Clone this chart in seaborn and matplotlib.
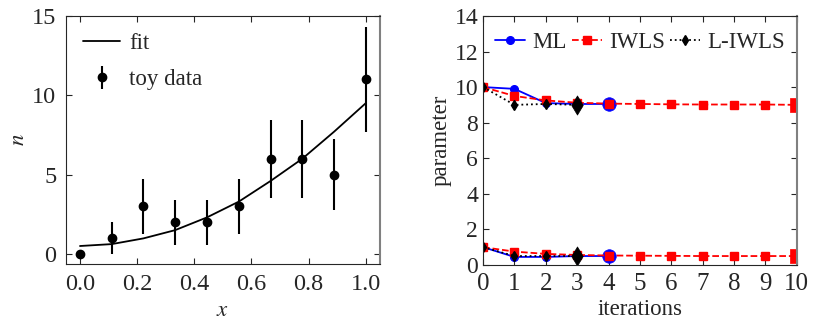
import numpy as np
import pandas as pd
import matplotlib
matplotlib.use('Agg')
import matplotlib.pyplot as plt
import seaborn as sns

# left panel: toy data and fit
x_data = [0.0, 0.111, 0.222, 0.333, 0.444, 0.556, 0.667, 0.778, 0.889, 1.0]
n_data = [0, 1, 3, 2, 2, 3, 6, 6, 5, 11]
n_err = [0, 1.0, 1.73, 1.41, 1.41, 1.73, 2.45, 2.45, 2.24, 3.32]
n_fit = [0.5, 0.62, 0.98, 1.5, 2.3, 3.3, 4.6, 6.0, 7.7, 9.5]

# right panel: parameter values per iteration
it_ml = [0, 1, 2, 3, 4]
ml_a = [10.0, 9.9, 9.1, 9.05, 9.05]
ml_b = [1.0, 0.45, 0.45, 0.5, 0.5]
it_iwls = [0, 1, 2, 3, 4, 5, 6, 7, 8, 9, 10]
iwls_a = [10.0, 9.5, 9.25, 9.12, 9.07, 9.05, 9.03, 9.02, 9.02, 9.02, 9.0]
iwls_b = [1.0, 0.75, 0.62, 0.56, 0.53, 0.52, 0.51, 0.5, 0.5, 0.5, 0.5]
it_liwls = [0, 1, 2, 3]
liwls_a = [10.0, 9.0, 9.05, 9.0]
liwls_b = [1.0, 0.5, 0.5, 0.5]

sns.set_style('ticks')
plt.rcParams['font.family'] = ['Liberation Serif', 'DejaVu Serif']
plt.rcParams['mathtext.fontset'] = 'stix'
plt.rcParams['font.size'] = 16.5
plt.rcParams['xtick.direction'] = 'in'
plt.rcParams['ytick.direction'] = 'in'
plt.rcParams['xtick.top'] = True
plt.rcParams['ytick.right'] = True

fig = plt.figure(figsize=(8.3, 3.32), dpi=100)
ax1 = fig.add_axes([0.0795, 0.205, 0.378, 0.747])
ax2 = fig.add_axes([0.582, 0.202, 0.378, 0.750])

df_fit = pd.DataFrame({'x': x_data, 'n': n_fit})
sns.lineplot(data=df_fit, x='x', y='n', ax=ax1, color='black', lw=1.3, label='fit')
ax1.errorbar(x_data, n_data, yerr=n_err, fmt='o', color='black', ms=6,
             elinewidth=1.5, capsize=0, label='toy data')
ax1.set_xlim(-0.049, 1.049)
ax1.set_ylim(-0.63, 15)
ax1.set_xticks([0.0, 0.2, 0.4, 0.6, 0.8, 1.0])
ax1.set_yticks([0, 5, 10, 15])
ax1.set_xlabel('$x$', labelpad=4)
ax1.set_ylabel('$n$', labelpad=2)
ax1.tick_params(labelsize=17.5, pad=7)
ax1.legend(loc='upper left', frameon=False, handlelength=1.6, handletextpad=0.4,
           borderaxespad=0.35, labelspacing=0.65)

# each method: two parameter tracks, then its final iterate drawn bigger
methods = [('ML', it_ml, ml_a, ml_b, '-', 'o', 'blue'),
           ('IWLS', it_iwls, iwls_a, iwls_b, '--', 's', 'red'),
           ('L-IWLS', it_liwls, liwls_a, liwls_b, ':', 'd', 'black')]
for name, its, a, b, ls, m, c in methods:
    ax2.plot(its, a, ls=ls, marker=m, color=c, ms=5.5, lw=1.3, label=name)
    ax2.plot(its, b, ls=ls, marker=m, color=c, ms=5.5, lw=1.3)
    sns.scatterplot(x=[its[-1], its[-1]], y=[a[-1], b[-1]], ax=ax2, marker=m,
                    color=c, s=95, edgecolor=c, linewidth=0.5, zorder=2)
ax2.set_xlim(0, 10)
ax2.set_ylim(0, 14)
ax2.set_xticks(range(0, 11))
ax2.set_yticks(range(0, 15, 2))
ax2.set_xlabel('iterations', labelpad=3)
ax2.set_ylabel('parameter', labelpad=2)
ax2.tick_params(axis='y', labelsize=17, pad=3.5)
ax2.tick_params(axis='x', labelsize=18, pad=6)
ax2.legend(loc='upper center', ncol=3, frameon=False, handlelength=1.3,
           handletextpad=0.3, columnspacing=0.25, borderaxespad=0.3, numpoints=1,
           fontsize=16.5)

for ax in (ax1, ax2):
    ax.spines['right'].set_color('grey')
    ax.spines['right'].set_linewidth(1.5)
    ax.tick_params(length=4, width=0.8)

fig.savefig('out.png', dpi=100)
